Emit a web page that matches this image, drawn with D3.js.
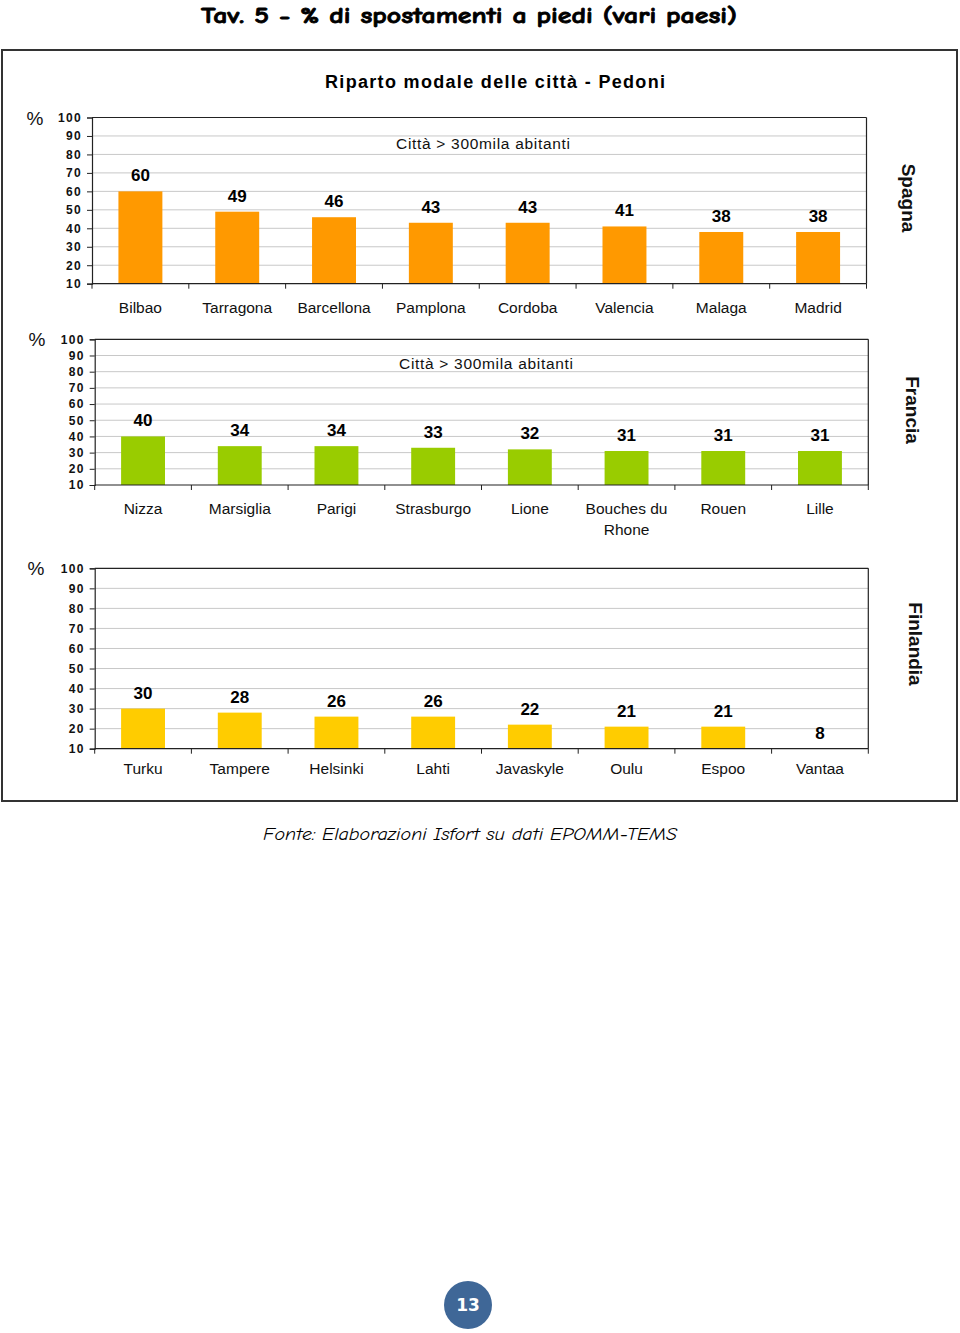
<!DOCTYPE html>
<html>
<head>
<meta charset="utf-8">
<script src="https://cdn.jsdelivr.net/npm/d3@7"></script>
<style>
  html, body { margin: 0; padding: 0; background: #fff; }
  svg { display: block; }
</style>
</head>
<body>
<svg id="chart" width="960" height="1333"></svg>
<script>
// ---- Data ----
const spagnaCities = ["Bilbao","Tarragona","Barcellona","Pamplona","Cordoba","Valencia","Malaga","Madrid"];
const spagnaValues = [60,49,46,43,43,41,38,38];
const franciaCities = ["Nizza","Marsiglia","Parigi","Strasburgo","Lione","Bouches du Rhone","Rouen","Lille"];
const franciaValues = [40,34,34,33,32,31,31,31];
const finlandiaCities = ["Turku","Tampere","Helsinki","Lahti","Javaskyle","Oulu","Espoo","Vantaa"];
const finlandiaValues = [30,28,26,26,22,21,21,8];
const yTicks = [10,20,30,40,50,60,70,80,90,100];
const countryNames = ["Spagna","Francia","Finlandia"];
const subtitleText = "Città > 300mila abitanti";

// ---- Layout ----
const svg = d3.select("#chart");
const FONT = "'Liberation Sans', Arial, Helvetica, sans-serif";
const COMIC = "'Comic Sans MS', 'Comic Neue', 'DejaVu Sans', sans-serif";

// Page title
svg.append("text")
  .attr("x", 469).attr("y", 23)
  .attr("text-anchor", "middle")
  .attr("font-family", COMIC).attr("font-weight", "bold").attr("font-size", 23)
  .attr("stroke", "#000").attr("stroke-width", 0.8)
  .attr("textLength", 536).attr("lengthAdjust", "spacingAndGlyphs")
  .text("Tav. 5 - % di spostamenti a piedi (vari paesi)");

// Outer box
svg.append("rect")
  .attr("x", 2).attr("y", 50).attr("width", 955).attr("height", 751)
  .attr("fill", "none").attr("stroke", "#333").attr("stroke-width", 2);

// Chart title
svg.append("text")
  .attr("x", 495).attr("y", 88)
  .attr("text-anchor", "middle")
  .attr("font-family", FONT).attr("font-weight", "bold").attr("font-size", 18)
  .attr("textLength", 340).attr("lengthAdjust", "spacing")
  .text("Riparto modale delle città - Pedoni");

const panels = [
  { cities: spagnaCities, values: spagnaValues, color: "#FF9900", country: countryNames[0],
    left: 92, right: 866.5, top: 117.5, bottom: 283.7, labelOff: 29, sub: true, subX: 483, subY: 149,
    pctX: 35, countryX: 908, countryY: 198 },
  { cities: franciaCities, values: franciaValues, color: "#99CC00", country: countryNames[1],
    left: 94.7, right: 868.3, top: 339.3, bottom: 485, labelOff: 29, sub: true, subX: 486, subY: 369,
    pctX: 37, countryX: 912, countryY: 410 },
  { cities: finlandiaCities, values: finlandiaValues, color: "#FFCC00", country: countryNames[2],
    left: 94.7, right: 868.3, top: 568.3, bottom: 748.7, labelOff: 25, sub: false,
    pctX: 36, countryX: 915, countryY: 644 }
];

function wrap(textSel, width, lineH) {
  textSel.each(function() {
    const t = d3.select(this);
    const words = t.text().split(/\s+/);
    const x = t.attr("x"), y = t.attr("y");
    t.text(null);
    let line = [];
    let tspan = t.append("tspan").attr("x", x).attr("y", y);
    let n = 0;
    words.forEach(w => {
      line.push(w);
      tspan.text(line.join(" "));
      if (tspan.node().getComputedTextLength() > width && line.length > 1) {
        line.pop();
        tspan.text(line.join(" "));
        line = [w];
        n++;
        tspan = t.append("tspan").attr("x", x).attr("y", +y + n * lineH).text(w);
      }
    });
  });
}

panels.forEach(p => {
  const g = svg.append("g");
  const x = d3.scaleBand().domain(p.cities).range([p.left, p.right]).paddingInner(0.546).paddingOuter(0.273);
  const xOuter = d3.scaleBand().domain(p.cities).range([p.left, p.right]);
  const y = d3.scaleLinear().domain([10, 100]).range([p.bottom, p.top]);

  // gridlines
  g.append("g").selectAll("line").data(yTicks.filter(t => t > 10 && t < 100)).join("line")
    .attr("x1", p.left).attr("x2", p.right)
    .attr("y1", d => y(d)).attr("y2", d => y(d))
    .attr("stroke", "#c8c8c8").attr("stroke-width", 1);

  // bars
  g.append("g").selectAll("rect").data(p.values).join("rect")
    .attr("x", (d, i) => x(p.cities[i]))
    .attr("width", x.bandwidth())
    .attr("y", d => y(Math.max(d, 10)))
    .attr("height", d => y(10) - y(Math.max(d, 10)))
    .attr("fill", p.color);

  // value labels
  g.append("g").selectAll("text").data(p.values).join("text")
    .attr("x", (d, i) => x(p.cities[i]) + x.bandwidth() / 2)
    .attr("y", d => y(Math.max(d, 10)) - 10)
    .attr("text-anchor", "middle")
    .attr("font-family", FONT).attr("font-weight", "bold").attr("font-size", 17)
    .text(d => d);

  // plot frame top & right
  g.append("line").attr("x1", p.left).attr("x2", p.right).attr("y1", p.top).attr("y2", p.top)
    .attr("stroke", "#222").attr("stroke-width", 1.2);
  g.append("line").attr("x1", p.right).attr("x2", p.right).attr("y1", p.top).attr("y2", p.bottom)
    .attr("stroke", "#222").attr("stroke-width", 1.2);

  // y axis
  const yAxis = d3.axisLeft(y).tickValues(yTicks).tickSize(5).tickPadding(5);
  const ya = g.append("g").attr("transform", `translate(${p.left},0)`).call(yAxis);
  ya.select(".domain").attr("stroke", "#222").attr("stroke-width", 1.2);
  ya.selectAll(".tick line").attr("stroke", "#222");
  ya.selectAll(".tick text")
    .attr("font-family", FONT).attr("font-weight", "bold").attr("font-size", 12)
    .attr("letter-spacing", 1.3).attr("fill", "#111");

  // x axis (ticks at category boundaries)
  const xa = g.append("g").attr("transform", `translate(0,${p.bottom})`);
  xa.append("line").attr("x1", p.left).attr("x2", p.right).attr("y1", 0).attr("y2", 0)
    .attr("stroke", "#222").attr("stroke-width", 1.2);
  const bounds = p.cities.map(c => xOuter(c)).concat([p.right]);
  xa.selectAll("line.tk").data(bounds).join("line").attr("class", "tk")
    .attr("x1", d => d).attr("x2", d => d).attr("y1", 0).attr("y2", 5)
    .attr("stroke", "#222").attr("stroke-width", 1);
  const catLabels = xa.selectAll("text.cat").data(p.cities).join("text").attr("class", "cat")
    .attr("x", d => xOuter(d) + xOuter.bandwidth() / 2)
    .attr("y", p.labelOff)
    .attr("text-anchor", "middle")
    .attr("font-family", FONT).attr("font-size", 15.5).attr("fill", "#111")
    .text(d => d);
  wrap(catLabels, xOuter.bandwidth() * 0.95, 21);

  // % label
  g.append("text").attr("x", p.pctX).attr("y", p.top + 7)
    .attr("text-anchor", "middle")
    .attr("font-family", FONT).attr("font-size", 19).attr("fill", "#111")
    .text("%");

  // subtitle
  if (p.sub) {
    g.append("text").attr("x", p.subX).attr("y", p.subY)
      .attr("text-anchor", "middle")
      .attr("font-family", FONT).attr("font-size", 15.5).attr("fill", "#111")
      .attr("textLength", 174).attr("lengthAdjust", "spacing")
      .text(subtitleText);
  }

  // country label (rotated)
  g.append("text")
    .attr("transform", `translate(${p.countryX},${p.countryY}) rotate(90)`)
    .attr("text-anchor", "middle").attr("dominant-baseline", "central")
    .attr("font-family", FONT).attr("font-weight", "bold").attr("font-size", 19).attr("fill", "#111")
    .text(p.country);
});

// Source note
svg.append("text")
  .attr("x", 470).attr("y", 840)
  .attr("text-anchor", "middle")
  .attr("font-family", COMIC).attr("font-style", "italic").attr("font-size", 17)
  .attr("textLength", 414).attr("lengthAdjust", "spacingAndGlyphs")
  .text("Fonte: Elaborazioni Isfort su dati EPOMM-TEMS");

// Page number badge
svg.append("circle").attr("cx", 468).attr("cy", 1305).attr("r", 24).attr("fill", "#3F6797");
svg.append("text").attr("x", 468).attr("y", 1311)
  .attr("text-anchor", "middle")
  .attr("font-family", "'DejaVu Sans', sans-serif").attr("font-weight", "bold").attr("font-size", 17)
  .attr("fill", "#fff")
  .text("13");
</script>
</body>
</html>
